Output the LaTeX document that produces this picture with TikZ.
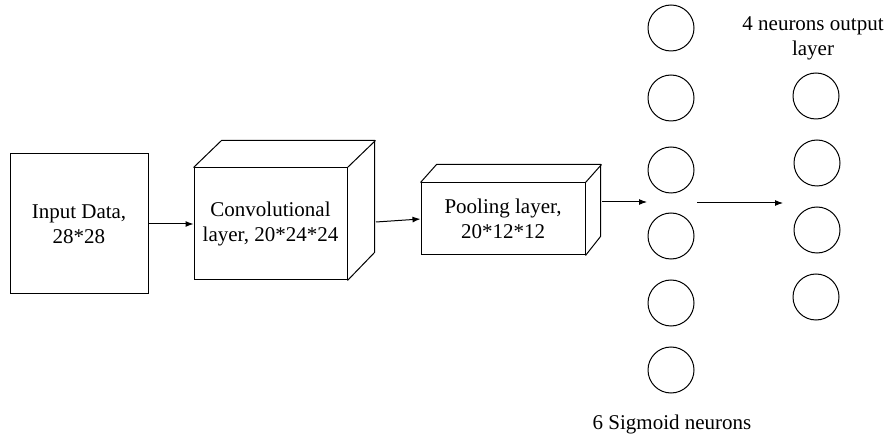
\documentclass[tikz,border=0pt]{standalone}
\usepackage{fontspec}
\setmainfont{Liberation Serif}
\usepackage{tikz}
\usetikzlibrary{arrows.meta}
\tikzstyle{layer}=[draw,line width=1pt,align=center,inner sep=0pt]
\tikzstyle{neuron}=[circle,draw,line width=1pt,minimum size=46pt,inner sep=0pt]
\tikzstyle{conn}=[line width=1pt,-{Latex[length=8pt,width=6pt]}]

\begin{document}
\begin{tikzpicture}[x=1pt, y=-1pt, font=\fontsize{21}{25}\selectfont]
      \useasboundingbox (0,0) rectangle (889,438);

      % input and cubes
      \node[layer, minimum width=138pt, minimum height=140pt] (inp) at (79, 224) {Input Data,\\28*28};
      \node[layer, minimum width=153pt, minimum height=112pt] (conv) at (270.5, 224) {Convolutional\\layer, 20*24*24};
      \draw[line width=1pt] (conv.north west) -- ++(28,-27) -- ++(153,0) -- ++(0,112) -- (conv.south east);
      \draw[line width=1pt] (conv.north east) -- ++(28,-27);
      \node[layer, minimum width=164pt, minimum height=72pt] (pool) at (503, 219) {Pooling layer,\\20*12*12};
      \draw[line width=1pt] (pool.north west) -- ++(16,-18) -- ++(164,0) -- ++(0,72) -- (pool.south east);
      \draw[line width=1pt] (pool.north east) -- ++(16,-18);

      \coordinate (convback) at (376, 222);
      \coordinate (poolback) at (602, 202);
      \coordinate (hidin) at (647, 202);
      \coordinate (hidout) at (697, 203);
      \coordinate (outin) at (783, 203);

      % sigmoid neurons
      \node[neuron] (s1) at (671, 28) {};
      \node[neuron] (s2) at (671, 98) {};
      \node[neuron] (s3) at (671, 170) {};
      \node[neuron] (s4) at (671, 236) {};
      \node[neuron] (s5) at (671, 303) {};
      \node[neuron] (s6) at (671, 370) {};
      \node[anchor=base] (slabel) at (672, 429) {6 Sigmoid neurons};

      % output neurons
      \node[neuron] (o1) at (816, 96) {};
      \node[neuron] (o2) at (817, 163) {};
      \node[neuron] (o3) at (817, 230) {};
      \node[neuron] (o4) at (816, 297) {};
      \node[align=center] (olabel) at (813, 38) {4 neurons output\\layer};

      \draw[conn] (inp.east) -- (conv.west);
      \draw[conn] (convback) -- (pool.west);
      \draw[conn] (poolback) -- (hidin);
      \draw[conn] (hidout) -- (outin);
    \end{tikzpicture}
\end{document}
